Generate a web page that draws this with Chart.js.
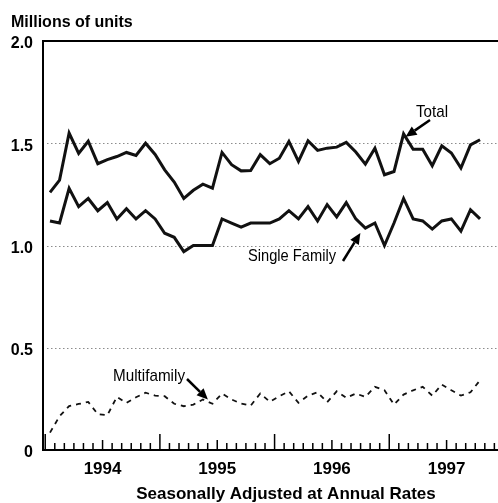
<!DOCTYPE html>
<html>
<head>
<meta charset="utf-8">
<script src="https://cdn.jsdelivr.net/npm/chart.js@4.4.1/dist/chart.umd.min.js"></script>
<style>
  html, body { margin: 0; padding: 0; background: #fff; }
  canvas { display: block; }
</style>
</head>
<body>
<canvas id="mainCanvas" width="498" height="503"></canvas>
<script>
// monthly housing starts, millions of units, SAAR
const months = [
  '1994-01','1994-02','1994-03','1994-04','1994-05','1994-06','1994-07','1994-08','1994-09','1994-10','1994-11','1994-12',
  '1995-01','1995-02','1995-03','1995-04','1995-05','1995-06','1995-07','1995-08','1995-09','1995-10','1995-11','1995-12',
  '1996-01','1996-02','1996-03','1996-04','1996-05','1996-06','1996-07','1996-08','1996-09','1996-10','1996-11','1996-12',
  '1997-01','1997-02','1997-03','1997-04','1997-05','1997-06','1997-07','1997-08','1997-09','1997-10'
];
const total = [
  1.26, 1.32, 1.55, 1.45, 1.51, 1.40, 1.42, 1.435, 1.455, 1.44, 1.50, 1.445,
  1.37, 1.31, 1.23, 1.27, 1.30, 1.28, 1.455, 1.395, 1.365, 1.367, 1.444, 1.40,
  1.427, 1.509, 1.411, 1.512, 1.465, 1.476, 1.481, 1.504, 1.457, 1.398, 1.476, 1.346,
  1.362, 1.546, 1.471, 1.471, 1.39, 1.487, 1.452, 1.379, 1.492, 1.517
];
const singleFamily = [
  1.12, 1.11, 1.28, 1.19, 1.23, 1.17, 1.21, 1.13, 1.18, 1.13, 1.17, 1.13,
  1.06, 1.04, 0.97, 1.00, 1.00, 1.00, 1.13, 1.11, 1.09, 1.11, 1.11, 1.11,
  1.13, 1.17, 1.13, 1.19, 1.12, 1.20, 1.14, 1.21, 1.13, 1.085, 1.11, 1.00,
  1.11, 1.23, 1.13, 1.12, 1.08, 1.12, 1.13, 1.07, 1.175, 1.13
];
const multifamily = [
  0.085, 0.165, 0.215, 0.225, 0.235, 0.175, 0.17, 0.26, 0.23, 0.258, 0.28, 0.266,
  0.263, 0.226, 0.214, 0.222, 0.247, 0.226, 0.276, 0.247, 0.227, 0.217, 0.276, 0.236,
  0.263, 0.287, 0.231, 0.266, 0.282, 0.234, 0.287, 0.255, 0.276, 0.26, 0.309, 0.292,
  0.222, 0.271, 0.292, 0.309, 0.266, 0.32, 0.292, 0.266, 0.282, 0.341
];
const years = ['1994', '1995', '1996', '1997'];
const yTicks = [0, 0.5, 1.0, 1.5, 2.0];

const FONT = '"Liberation Sans", Arial, Helvetica, sans-serif';

// year label sits in the middle of each year (between June and July)
const yearPos = years.map(y => months.indexOf(y + '-07') - 0.5);

function series(values) {
    return values.map((v, i) => ({x: i, y: v}));
}

function line(ctx, x1, y1, x2, y2) {
    ctx.beginPath();
    ctx.moveTo(x1, y1);
    ctx.lineTo(x2, y2);
    ctx.stroke();
}

function arrow(ctx, x1, y1, x2, y2) {
    const ang = Math.atan2(y2 - y1, x2 - x1);
    const len = 11, half = 5;
    const bx = x2 - len * Math.cos(ang), by = y2 - len * Math.sin(ang);
    ctx.lineWidth = 2.5;
    line(ctx, x1, y1, bx, by);
    ctx.beginPath();
    ctx.moveTo(x2, y2);
    ctx.lineTo(bx + half * Math.sin(ang), by - half * Math.cos(ang));
    ctx.lineTo(bx - half * Math.sin(ang), by + half * Math.cos(ang));
    ctx.closePath();
    ctx.fill();
}

function narrowText(ctx, text, x, y, width) {
    const w = ctx.measureText(text).width;
    ctx.save();
    ctx.translate(x, y);
    ctx.scale(width / w, 1);
    ctx.fillText(text, 0, 0);
    ctx.restore();
}

const decor = {
    id: 'decor',
    beforeDatasetsDraw(chart) {
        const {ctx, chartArea: a} = chart;
        const xs = chart.scales.x, ys = chart.scales.y;
        ctx.save();
        // dotted gridlines
        ctx.strokeStyle = '#8c8c8c';
        ctx.lineWidth = 1;
        ctx.setLineDash([1.5, 2.5]);
        for (const v of yTicks) {
            if (v === 0 || v === 2.0) continue;
            const py = Math.round(ys.getPixelForValue(v)) + 0.5;
            line(ctx, a.left + 4, py, a.right, py);
        }
        ctx.setLineDash([]);
        // top frame line
        ctx.strokeStyle = '#000';
        ctx.lineWidth = 2;
        const top = ys.getPixelForValue(2.0);
        line(ctx, a.left, top, a.right, top);
        // month ticks, longer at mid year and year start
        ctx.lineWidth = 1.5;
        for (let i = 0; i - 0.5 <= xs.max; i++) {
            const px = xs.getPixelForValue(i - 0.5);
            if (px < a.left) continue;
            const h = i % 12 === 0 ? 16 : (i % 12 === 6 ? 10 : 7);
            line(ctx, px, a.bottom, px, a.bottom - h);
        }
        ctx.restore();
    },
    afterDraw(chart) {
        const {ctx} = chart;
        const xs = chart.scales.x, ys = chart.scales.y;
        ctx.save();
        ctx.fillStyle = '#000';
        ctx.strokeStyle = '#000';
        ctx.textBaseline = 'alphabetic';
        ctx.textAlign = 'left';
        ctx.font = 'bold 16px ' + FONT;
        ctx.fillText('Millions of units', 11, 27);
        ctx.textAlign = 'center';
        ctx.font = 'bold 17px ' + FONT;
        ctx.fillText('Seasonally Adjusted at Annual Rates', 286, 499);

        // annotations
        ctx.textAlign = 'left';
        ctx.font = '17px ' + FONT;
        narrowText(ctx, 'Total', 416, 117, 32);
        narrowText(ctx, 'Single Family', 248, 261, 88);
        narrowText(ctx, 'Multifamily', 113, 381, 72);

        const tTip = [xs.getPixelForValue(37) + 2, ys.getPixelForValue(total[37]) + 3];
        arrow(ctx, 430, 120, tTip[0], tTip[1]);
        const sTip = [xs.getPixelForValue(33) - 5, ys.getPixelForValue(singleFamily[33]) + 5];
        arrow(ctx, 343, 261, sTip[0], sTip[1]);
        const mTip = [xs.getPixelForValue(16) + 5, ys.getPixelForValue(multifamily[16])];
        arrow(ctx, 187, 379, mTip[0], mTip[1]);
        ctx.restore();
    }
};

let chart = new Chart(
    document.getElementById('mainCanvas'),
    {
        type: 'line',
        data: {
            datasets: [
                {label: 'Total', data: series(total), borderColor: '#111', borderWidth: 3},
                {label: 'Single Family', data: series(singleFamily), borderColor: '#111', borderWidth: 3},
                {label: 'Multifamily', data: series(multifamily), borderColor: '#111', borderWidth: 1.8, borderDash: [5, 5]}
            ]
        },
        options: {
            responsive: false,
            animation: false,
            layout: {padding: {top: 41, left: 0, right: 0, bottom: 0}},
            elements: {point: {radius: 0}, line: {tension: 0}},
            plugins: {legend: {display: false}, tooltip: {enabled: false}},
            scales: {
                x: {
                    type: 'linear',
                    min: -0.733,
                    max: 46.88,
                    grid: {display: false, drawTicks: false},
                    border: {display: true, color: '#000', width: 2},
                    afterBuildTicks: s => { s.ticks = yearPos.map(v => ({value: v})); },
                    afterFit: s => { s.height = 53; },
                    ticks: {
                        autoSkip: false,
                        maxRotation: 0,
                        padding: 9,
                        color: '#000',
                        font: {family: FONT, size: 17, weight: 'bold'},
                        callback: (v, i) => years[i]
                    }
                },
                y: {
                    min: 0,
                    max: 2.0,
                    grid: {display: false, drawTicks: false},
                    border: {display: true, color: '#000', width: 2},
                    afterBuildTicks: s => { s.ticks = yTicks.map(v => ({value: v})); },
                    afterFit: s => { s.width = 43; },
                    ticks: {
                        padding: 10,
                        labelOffset: 3,
                        color: '#000',
                        font: {family: FONT, size: 16, weight: 'bold'},
                        callback: v => v === 0 ? '0' : v.toFixed(1)
                    }
                }
            }
        },
        plugins: [decor]
    }
);
</script>
</body>
</html>
